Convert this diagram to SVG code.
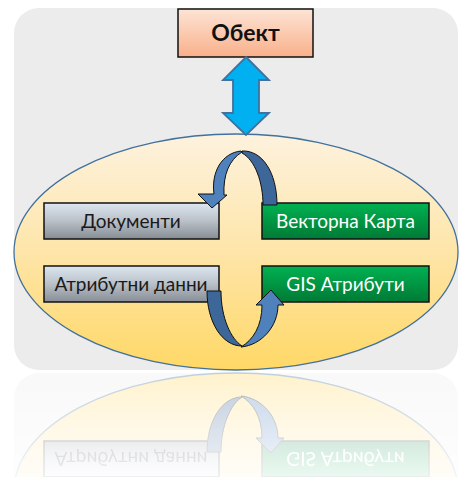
<svg xmlns="http://www.w3.org/2000/svg" xmlns:xlink="http://www.w3.org/1999/xlink" width="459" height="477" viewBox="0 0 459 477">
  <style>
    .lbl { font-family: Lato, "Liberation Sans", sans-serif; font-size: 19px; text-anchor: middle; }
    .dark { fill: #1a1a1a; }
    .light { fill: #ffffff; }
    .box { stroke: #111111; stroke-width: 1.5; }
    .band { stroke: #111111; stroke-width: 1; stroke-linejoin: round; }
  </style>
  <defs>
    <linearGradient id="gPeach" x1="0" y1="0" x2="0" y2="1">
      <stop offset="0" stop-color="#fde4d6"/>
      <stop offset="1" stop-color="#f9b08a"/>
    </linearGradient>
    <linearGradient id="gEll" x1="0" y1="0" x2="0" y2="1">
      <stop offset="0" stop-color="#fdf2de"/>
      <stop offset="0.5" stop-color="#fee5a9"/>
      <stop offset="1" stop-color="#ffd866"/>
    </linearGradient>
    <linearGradient id="gGray" x1="0" y1="0" x2="0" y2="1">
      <stop offset="0" stop-color="#dde7f1"/>
      <stop offset="0.5" stop-color="#b9c0c8"/>
      <stop offset="1" stop-color="#878d95"/>
    </linearGradient>
    <linearGradient id="gGreen" x1="0" y1="0" x2="0" y2="1">
      <stop offset="0" stop-color="#00b251"/>
      <stop offset="1" stop-color="#007a36"/>
    </linearGradient>
    <linearGradient id="gFade" x1="0" y1="0" x2="0" y2="1">
      <stop offset="0" stop-color="#ffffff" stop-opacity="0.34"/>
      <stop offset="1" stop-color="#ffffff" stop-opacity="0.08"/>
    </linearGradient>
    <mask id="fade" maskUnits="userSpaceOnUse" x="0" y="371" width="459" height="106">
      <rect x="0" y="371" width="459" height="106" fill="url(#gFade)"/>
    </mask>
  </defs>

  <g id="main">
    <rect id="panel" x="14" y="8" width="444" height="362" rx="25" ry="25" fill="#ececec"/>
    <g id="container">
      <ellipse cx="236" cy="252" rx="222" ry="118" fill="url(#gEll)" stroke="#41719c" stroke-width="1.3"/>
    </g>
    <g id="obekt">
      <rect class="box" x="178" y="9" width="135" height="48" fill="url(#gPeach)"/>
      <text x="245.5" y="41" font-family="Lato, 'Liberation Sans', sans-serif" font-size="23" font-weight="bold" text-anchor="middle" fill="#111111">Обект</text>
    </g>
    <g id="dokumenti">
      <rect class="box" x="44" y="203" width="175" height="36" fill="url(#gGray)"/>
      <text class="lbl dark" x="131" y="228">Документи</text>
    </g>
    <g id="vektorna-karta">
      <rect class="box" x="262" y="203" width="167" height="36" fill="url(#gGreen)"/>
      <text class="lbl light" x="345.5" y="228">Векторна Карта</text>
    </g>
    <g id="atributni-danni">
      <rect class="box" x="44" y="266" width="175" height="36" fill="url(#gGray)"/>
      <text class="lbl dark" x="131" y="291">Атрибутни данни</text>
    </g>
    <g id="gis-atributi">
      <rect class="box" x="262" y="266" width="167" height="36" fill="url(#gGreen)"/>
      <text class="lbl light" x="345.5" y="291">GIS Атрибути</text>
    </g>
    <g id="connectors">
      <path id="double-arrow" d="M246,57 L269,80 L259,80 L259,113 L269,113 L246,135 L223,113 L233,113 L233,80 L223,80 Z" fill="#00b0f0" stroke="#41719c" stroke-width="1.8" stroke-linejoin="miter"/>
      <g id="loop-top">
        <path class="band" fill="#3d6699" d="M242,151 C262,150 277,172 277,205 L263,205 C263,182 255,160 242,153 Z"/>
        <path class="band" fill="#4f81bd" d="M241,151 C222,153 211,172 214,194 L198,194 L212,208 L227,195 L224,195 C223,175 229,160 242,152 Z"/>
      </g>
      <g id="loop-bottom">
        <path class="band" fill="#3d6699" d="M207,291 L221,291 C221,318 231,339 242,346 C222,346 207,322 207,291 Z"/>
        <path class="band" fill="#4f81bd" d="M241,347 C262,345 278,326 278,305 L284,305 L271,290 L256,305 L262,305 C262,326 253,340 241,347 Z"/>
      </g>
    </g>
  </g>

  <g id="reflection" mask="url(#fade)">
    <use xlink:href="#main" href="#main" transform="translate(0,743) scale(1,-1)"/>
  </g>
</svg>
